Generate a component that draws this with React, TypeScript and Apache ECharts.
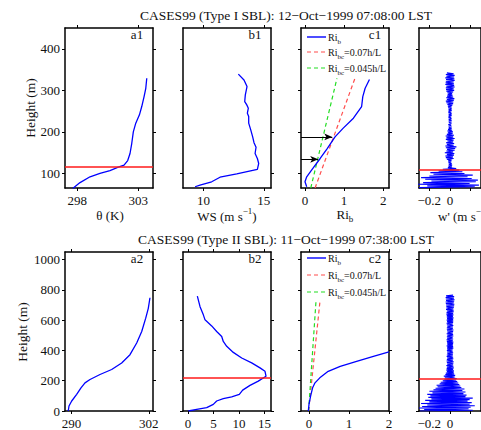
import React, { useEffect, useRef } from 'react';
import * as echarts from 'echarts';

// ---------- Type I SBL: 12-Oct-1999 07:08:00 LST ----------
const THETA_1 = [297.63, 298.23, 299.05, 299.86, 300.68, 301.36, 301.83, 302.13, 302.32, 302.46, 302.59, 302.79, 303.09, 303.28, 303.47, 303.61, 303.69];
const THETA_1_H = [64, 78, 92, 100, 107, 115, 120, 131, 148, 172, 200, 221, 241, 261, 285, 305, 329];
const WS_1 = [9.3, 9.71, 10.68, 11.37, 12.76, 14.47, 14.58, 14.47, 14.28, 14.36, 14.19, 14.08, 13.92, 13.75, 13.75, 13.64, 13.72, 13.59, 13.42, 13.47, 13.61, 13.36, 12.89];
const WS_1_H = [68, 72, 80, 91, 99, 110, 124, 136, 148, 163, 174, 188, 205, 221, 237, 245, 257, 265, 273, 289, 309, 325, 339];
const RIB_1 = [0.046, 0.002, 0.046, 0.17, 0.39, 0.57, 0.77, 0.98, 1.24, 1.45, 1.48, 1.54, 1.65];
const RIB_1_H = [68, 80, 92, 108, 136, 160, 188, 209, 233, 261, 285, 305, 326];
const RIBC07_1 = [0.26, 1.28];
const RIBC045_1 = [0.15, 0.82];
const RIBC_1_H = [65, 329];
const ARROW_RI_1 = [0.7, 0.34];
const ARROW_H_1 = [188, 134];
const W_1_H0 = 66;
const W_1_DH = 2;
const W_1 = [
  -0.3, 0.24, -0.22, 0.28, -0.31, 0.19, -0.26, 0.25, -0.18, 0.27,
  -0.24, 0.21, -0.28, 0.17, -0.2, 0.22, -0.16, 0.14, -0.19, 0.12,
  -0.11, 0.09, -0.07, 0.06, -0.02, 0.018, -0.015, 0.02, -0.012, 0.016,
  -0.014, 0.012, -0.018, 0.015, -0.03, 0.035, -0.04, 0.028, -0.045, 0.038,
  -0.03, 0.042, -0.05, 0.03, -0.035, 0.045, -0.028, 0.05, -0.04, 0.062,
  -0.045, 0.035, -0.03, 0.04, -0.038, 0.03, -0.025, 0.035, -0.04, 0.045,
  -0.035, 0.03, -0.042, 0.038, -0.03, 0.025, -0.02, 0.028, -0.025, 0.02,
  -0.018, 0.015, -0.012, 0.016, -0.014, 0.012, -0.016, 0.013, -0.011, 0.015,
  -0.013, 0.016, -0.012, 0.014, -0.015, 0.012, -0.014, 0.016, -0.012, 0.015,
  -0.016, 0.013, -0.015, 0.017, -0.013, 0.015, -0.018, 0.016, -0.02, 0.022,
  -0.025, 0.03, -0.035, 0.032, -0.04, 0.038, -0.03, 0.042, -0.036, 0.03,
  -0.028, 0.025, -0.022, 0.02, -0.025, 0.03, -0.035, 0.04, -0.038, 0.035,
  -0.04, 0.045, -0.035, 0.04, -0.045, 0.038, -0.042, 0.035, -0.04, 0.045,
  -0.038, 0.042, -0.045, 0.04, -0.035, 0.045, -0.04, 0.035, -0.03,
];
const SBL_H_THETA_1 = 116;
const SBL_H_W_1 = 110;

// ---------- Type II SBL: 11-Oct-1999 07:38:00 LST ----------
const THETA_2 = [289.5, 289.62, 290.04, 290.81, 291.48, 292.1, 292.88, 294.43, 296.24, 297.79, 299.08, 300.12, 300.9, 301.52, 301.92, 302.18];
const THETA_2_H = [0, 33, 66, 110, 153, 186, 208, 241, 274, 317, 372, 449, 525, 613, 678, 748];
const WS_2 = [0.04, 1.69, 3.66, 4.96, 5.62, 6.92, 8.57, 10.07, 10.73, 12.17, 13.8, 15.32, 15.12, 14.14, 12.5, 10.54, 8.89, 7.59, 6.92, 6.61, 5.62, 4.64, 3.33, 3.0, 2.35, 1.82];
const WS_2_H = [0, 11, 22, 44, 66, 81, 94, 110, 138, 169, 197, 230, 262, 285, 318, 350, 387, 427, 459, 492, 525, 562, 602, 635, 689, 759];
const RIB_2 = [-0.017, 0, 0.04, 0.09, 0.15, 0.27, 0.48, 0.78, 1.19, 1.61, 2.0];
const RIB_2_H = [0, 44, 98, 153, 186, 219, 262, 295, 328, 361, 390];
const RIBC07_2 = [-0.01, 0.275];
const RIBC045_2 = [-0.01, 0.175];
const RIBC_2_H = [0, 726];
const W_2_H0 = 0;
const W_2_DH = 5;
const W_2 = [
  -0.29, 0.22, -0.25, 0.18, -0.3, 0.2, -0.27, 0.24, -0.22, 0.19,
  -0.28, 0.21, -0.2, 0.17, -0.24, 0.19, -0.18, 0.22, -0.21, 0.15,
  -0.19, 0.16, -0.22, 0.13, -0.17, 0.15, -0.2, 0.12, -0.16, 0.14,
  -0.14, 0.11, -0.12, 0.1, -0.13, 0.09, -0.1, 0.08, -0.09, 0.07,
  -0.07, 0.06, -0.055, 0.065, -0.05, 0.045, -0.06, 0.05, -0.045, 0.04,
  -0.04, 0.035, -0.03, 0.038, -0.035, 0.03, -0.032, 0.036, -0.03, 0.033,
  -0.035, 0.03, -0.028, 0.032, -0.03, 0.035, -0.033, 0.028, -0.03, 0.032,
  -0.028, 0.03, -0.032, 0.026, -0.03, 0.028, -0.025, 0.03, -0.028, 0.026,
  -0.03, 0.025, -0.028, 0.032, -0.026, 0.03, -0.032, 0.028, -0.025, 0.03,
  -0.028, 0.032, -0.03, 0.026, -0.033, 0.03, -0.028, 0.025, -0.03, 0.032,
  -0.026, 0.03, -0.032, 0.028, -0.025, 0.03, -0.028, 0.033, -0.03, 0.027,
  -0.03, 0.028, -0.026, 0.032, -0.03, 0.027, -0.033, 0.03, -0.028, 0.031,
  -0.032, 0.03, -0.028, 0.034, -0.03, 0.028, -0.031, 0.033, -0.035, 0.03,
  -0.033, 0.036, -0.03, 0.035, -0.038, 0.032, -0.036, 0.038, -0.035, 0.04,
  -0.038, 0.042, -0.04, 0.036, -0.042, 0.04, -0.038, 0.044, -0.04, 0.038,
  -0.042, 0.04, -0.038, 0.03,
];
const SBL_H_WS_2 = 220;
const SBL_H_W_2 = 210;

// ---------- axis ticks ----------
const H_TICKS_1 = [100, 200, 300, 400];
const H_TICKS_2 = [0, 200, 400, 600, 800, 1000];
const THETA_TICKS_1 = [298, 303];
const WS_TICKS_1 = [10, 15];
const RI_TICKS = [0, 1, 2];
const W_TICKS = [-0.2, 0, 0.2];
const W_LABELS = [-0.2, 0];
const THETA_TICKS_2 = [290, 302];
const WS_TICKS_2 = [0, 5, 10, 15];

const TITLE_1 = 'CASES99 (Type I SBL): 12\u2212Oct\u22121999 07:08:00 LST';
const TITLE_2 = 'CASES99 (Type II SBL): 11\u2212Oct\u22121999 07:38:00 LST';

const FONT = 'Liberation Serif';
const INK = '#111111';
const BLUE = '#0000ff';
const RED = '#ff1a1a';
const LRED = '#ff4d4d';
const GREEN = '#22dd22';

const PW = 88;
const PH = 160;
const COL_X = [65, 183, 301, 419];
const ROW_Y = [28, 252];

const pts = (xs: number[], ys: number[]) => xs.map((x, i) => [x, ys[i]]);
const grid = (vals: number[], h0: number, dh: number) => vals.map((v, i) => [v, h0 + i * dh]);
const fmt = (v: number) => (v < 0 ? '\u2212' + String(Math.abs(v)) : String(v));

interface PanelSpec {
  col: number;
  row: number;
  xr: [number, number];
  yr: [number, number];
  xt: number[];
  xl: number[];
  yt: number[];
  yLabels: boolean;
}

const PANELS: PanelSpec[] = [
  { col: 0, row: 0, xr: [297, 304.2], yr: [65, 450], xt: THETA_TICKS_1, xl: THETA_TICKS_1, yt: H_TICKS_1, yLabels: true },
  { col: 1, row: 0, xr: [8.3, 15.6], yr: [65, 450], xt: WS_TICKS_1, xl: WS_TICKS_1, yt: H_TICKS_1, yLabels: false },
  { col: 2, row: 0, xr: [-0.1, 2.15], yr: [65, 450], xt: RI_TICKS, xl: RI_TICKS, yt: H_TICKS_1, yLabels: false },
  { col: 3, row: 0, xr: [-0.3, 0.3], yr: [65, 450], xt: W_TICKS, xl: W_LABELS, yt: H_TICKS_1, yLabels: false },
  { col: 0, row: 1, xr: [289, 302.65], yr: [0, 1050], xt: THETA_TICKS_2, xl: THETA_TICKS_2, yt: H_TICKS_2, yLabels: true },
  { col: 1, row: 1, xr: [-1, 16.3], yr: [0, 1050], xt: WS_TICKS_2, xl: WS_TICKS_2, yt: H_TICKS_2, yLabels: false },
  { col: 2, row: 1, xr: [-0.2, 2], yr: [0, 1050], xt: RI_TICKS, xl: RI_TICKS, yt: H_TICKS_2, yLabels: false },
  { col: 3, row: 1, xr: [-0.3, 0.3], yr: [0, 1050], xt: W_TICKS, xl: W_LABELS, yt: H_TICKS_2, yLabels: false },
];

const frameLine = { show: true, onZero: false, lineStyle: { color: '#000', width: 1.5 } };
const tickStyle = (vals: number[]) => ({ show: true, length: 3, inside: false, customValues: vals, lineStyle: { color: '#000', width: 1 } });
const labelStyle = (vals: number[], margin: number) => ({
  show: true,
  customValues: vals,
  margin,
  fontFamily: FONT,
  fontSize: 13,
  color: INK,
  formatter: (v: number) => fmt(v),
});

function buildAxes() {
  const grids: any[] = [];
  const xAxes: any[] = [];
  const yAxes: any[] = [];
  PANELS.forEach((p, i) => {
    grids.push({ left: COL_X[p.col], top: ROW_Y[p.row], width: PW, height: PH, containLabel: false });
    const xBase = { type: 'value', gridIndex: i, min: p.xr[0], max: p.xr[1], axisLine: frameLine, splitLine: { show: false }, axisTick: tickStyle(p.xt) };
    xAxes.push({ ...xBase, position: 'bottom', axisLabel: labelStyle(p.xl, 6) });
    xAxes.push({ ...xBase, position: 'top', axisLabel: { show: false } });
    const yBase = { type: 'value', gridIndex: i, min: p.yr[0], max: p.yr[1], axisLine: frameLine, splitLine: { show: false }, axisTick: tickStyle(p.yt) };
    yAxes.push({ ...yBase, position: 'left', axisLabel: p.yLabels ? labelStyle(p.yt, 5) : { show: false } });
    yAxes.push({ ...yBase, position: 'right', axisLabel: { show: false } });
  });
  return { grids, xAxes, yAxes };
}

const line = (i: number, data: number[][], color: string, width: number, extra: any = {}) => ({
  type: 'line',
  xAxisIndex: 2 * i,
  yAxisIndex: 2 * i,
  data,
  symbol: 'none',
  showSymbol: false,
  silent: true,
  clip: true,
  ...extra,
  lineStyle: { color, width, ...(extra.lineStyle || {}) },
});

const sblLine = (h: number) => ({
  silent: true,
  symbol: 'none',
  label: { show: false },
  lineStyle: { color: RED, width: 1.7, type: 'solid' },
  data: [{ yAxis: h }],
});

const arrowLines = (xLeft: number) => ({
  silent: true,
  symbol: ['none', 'arrow'],
  symbolSize: [5, 8],
  label: { show: false },
  lineStyle: { color: '#000', width: 1, type: 'solid' },
  data: ARROW_H_1.map((h, k) => [{ coord: [xLeft, h] }, { coord: [ARROW_RI_1[k], h] }]),
});

function buildSeries() {
  const dash = { lineStyle: { type: [4, 3] } };
  return [
    line(0, pts(THETA_1, THETA_1_H), BLUE, 1.3, { markLine: sblLine(SBL_H_THETA_1) }),
    line(1, pts(WS_1, WS_1_H), BLUE, 1.3),
    line(2, pts(RIBC07_1, RIBC_1_H), LRED, 1.2, dash),
    line(2, pts(RIBC045_1, RIBC_1_H), GREEN, 1.2, dash),
    line(2, pts(RIB_1, RIB_1_H), BLUE, 1.3, { markLine: arrowLines(-0.1) }),
    line(3, grid(W_1, W_1_H0, W_1_DH), BLUE, 1.1, { markLine: sblLine(SBL_H_W_1) }),
    line(4, pts(THETA_2, THETA_2_H), BLUE, 1.3),
    line(5, pts(WS_2, WS_2_H), BLUE, 1.3, { markLine: sblLine(SBL_H_WS_2) }),
    line(6, pts(RIBC07_2, RIBC_2_H), LRED, 1.2, dash),
    line(6, pts(RIBC045_2, RIBC_2_H), GREEN, 1.2, dash),
    line(6, pts(RIB_2, RIB_2_H), BLUE, 1.3),
    line(7, grid(W_2, W_2_H0, W_2_DH), BLUE, 1.1, { markLine: sblLine(SBL_H_W_2) }),
  ];
}

// rich-text styles for sub/superscripts
const subRich = (main: number, sub: number) => ({
  m: { fontFamily: FONT, fontSize: main, lineHeight: main, verticalAlign: 'top', fill: INK },
  s: { fontFamily: FONT, fontSize: sub, lineHeight: sub, verticalAlign: 'bottom', fill: INK },
  sp: { fontFamily: FONT, fontSize: 1, lineHeight: Math.round(main * 1.25), verticalAlign: 'top', fill: INK },
});
const supRich = (main: number, sup: number) => ({
  m: { fontFamily: FONT, fontSize: main, lineHeight: main, verticalAlign: 'bottom', fill: INK },
  p: { fontFamily: FONT, fontSize: sup, lineHeight: sup, verticalAlign: 'top', fill: INK },
  sp: { fontFamily: FONT, fontSize: 1, lineHeight: Math.round(main * 1.25), verticalAlign: 'top', fill: INK },
});

const plainText = (x: number, y: number, text: string, size: number, extra: any = {}) => ({
  type: 'text',
  x,
  y,
  silent: true,
  ...extra,
  style: { text, fontFamily: FONT, fontSize: size, fill: INK, align: 'center', verticalAlign: 'middle', ...(extra.style || {}) },
});

function legendBlock(x0: number, ys: number[]) {
  const items: any[] = [];
  const labels = ['{m|Ri}{s|b}{sp| }', '{m|Ri}{s|bc}{m|=0.07h/L}{sp| }', '{m|Ri}{s|bc}{m|=0.045h/L}{sp| }'];
  const colors = [BLUE, LRED, GREEN];
  ys.forEach((y, k) => {
    items.push({
      type: 'line',
      silent: true,
      shape: { x1: x0, y1: y, x2: x0 + 19, y2: y },
      style: { stroke: colors[k], lineWidth: k === 0 ? 1.4 : 1.2, lineDash: k === 0 ? null : [4, 3] },
    });
    items.push({
      type: 'text',
      x: x0 + 21,
      y: y + 1.5,
      silent: true,
      style: { text: labels[k], rich: subRich(10, 7), fontFamily: FONT, align: 'left', verticalAlign: 'middle', fill: INK },
    });
  });
  return items;
}

function buildGraphics() {
  const g: any[] = [];
  g.push(plainText(286, 15, TITLE_1, 13.5));
  g.push(plainText(286, 239, TITLE_2, 13.5));
  g.push(plainText(30, 108, 'Height (m)', 13.5, { rotation: Math.PI / 2 }));
  g.push(plainText(22, 332, 'Height (m)', 13.5, { rotation: Math.PI / 2 }));
  // panel tags
  [['a1', 137, 34], ['b1', 255, 34], ['c1', 375, 34], ['a2', 137, 258], ['b2', 255, 258], ['c2', 375, 258]].forEach(([t, x, y]) =>
    g.push(plainText(x as number, y as number, t as string, 13)),
  );
  // x-axis titles of the upper row
  g.push(plainText(110, 215, '\u03b8 (K)', 13));
  g.push({
    type: 'text', x: 227, y: 214.5, silent: true,
    style: { text: '{m|WS (m s}{p|\u22121}{m|)}{sp| }', rich: supRich(13, 9), fontFamily: FONT, align: 'center', verticalAlign: 'middle', fill: INK },
  });
  g.push({
    type: 'text', x: 345, y: 215.5, silent: true,
    style: { text: '{m|Ri}{s|b}{sp| }', rich: subRich(13, 9), fontFamily: FONT, align: 'center', verticalAlign: 'middle', fill: INK },
  });
  g.push({
    type: 'text', x: 464, y: 214.5, silent: true,
    style: { text: "{m|w' (m s}{p|\u22121}{m|)}{sp| }", rich: supRich(13, 9), fontFamily: FONT, align: 'center', verticalAlign: 'middle', fill: INK },
  });
  g.push(...legendBlock(307, [37, 52, 68]));
  g.push(...legendBlock(307, [258, 275, 292]));
  return g;
}

export default function App() {
  const ref = useRef<HTMLDivElement>(null);
  useEffect(() => {
    if (!ref.current) return;
    const chart = echarts.init(ref.current, undefined, { renderer: 'svg' });
    const { grids, xAxes, yAxes } = buildAxes();
    chart.setOption({
      animation: false,
      backgroundColor: '#ffffff',
      textStyle: { fontFamily: FONT },
      grid: grids,
      xAxis: xAxes,
      yAxis: yAxes,
      series: buildSeries(),
      graphic: buildGraphics(),
    });
    return () => chart.dispose();
  }, []);
  return <div ref={ref} style={{ position: 'absolute', left: 0, top: 0, width: 481, height: 430 }} />;
}
